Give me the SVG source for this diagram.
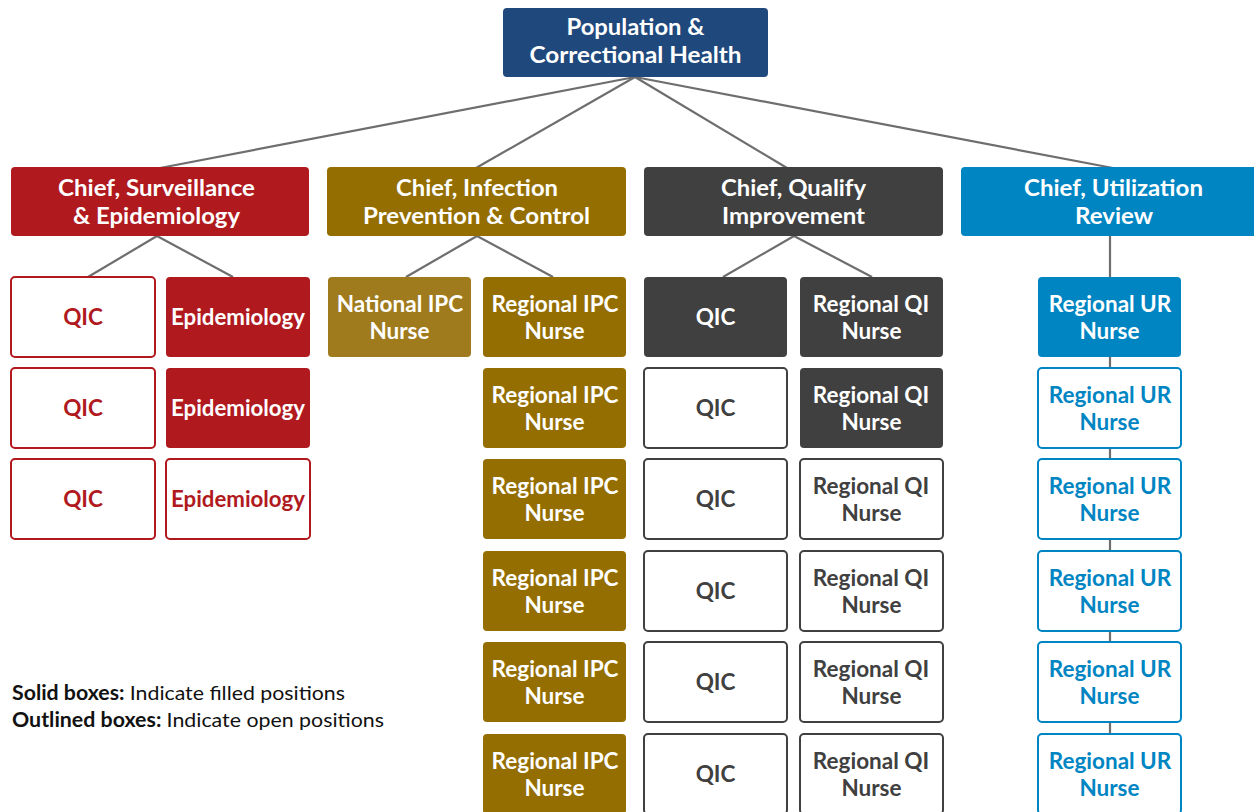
<svg xmlns="http://www.w3.org/2000/svg" width="1254" height="812" viewBox="0 0 1254 812">
<style>
text{font-family:Lato,"Open Sans","Liberation Sans",sans-serif;font-weight:bold;font-size:22.5px;text-anchor:middle}
.h{font-size:22px}
.w{fill:#fff}
.navy{fill:#1f497d}
.red{fill:#b0191e}
.gold{fill:#946e00}
.gold2{fill:#a07b1e}
.gray{fill:#404040}
.blue{fill:#0085c3}
.ored{fill:#fff;stroke:#b0191e;stroke-width:2}
.ogray{fill:#fff;stroke:#404040;stroke-width:2}
.oblue{fill:#fff;stroke:#0085c3;stroke-width:2}
.tred{fill:#b0191e}
.tgray{fill:#404040}
.tblue{fill:#0085c3}
.conn line{stroke:#6e6e6e;stroke-width:2.2}
.leg{text-anchor:start;font-size:20px;fill:#111}
.leg tspan.n{font-weight:normal}
</style>
<g class="conn" id="connectors">
<line x1="635" y1="77" x2="160" y2="168"/>
<line x1="635" y1="77" x2="476" y2="168"/>
<line x1="635" y1="77" x2="787" y2="168"/>
<line x1="635" y1="77" x2="1113" y2="168"/>
<line x1="157" y1="236" x2="88" y2="277"/>
<line x1="157" y1="236" x2="233" y2="277"/>
<line x1="477" y1="236" x2="406" y2="277"/>
<line x1="477" y1="236" x2="553" y2="277"/>
<line x1="794" y1="236" x2="723" y2="277"/>
<line x1="794" y1="236" x2="872" y2="277"/>
<line x1="1110" y1="236" x2="1110" y2="740"/>
</g>
<g id="top"><rect class="navy" x="503" y="8" width="265" height="69" rx="4"/><text class="w h" x="635.5" y="35" textLength="138" lengthAdjust="spacingAndGlyphs">Population &amp;</text><text class="w h" x="635.5" y="63" textLength="212" lengthAdjust="spacingAndGlyphs">Correctional Health</text></g>
<g id="chief-se"><rect class="red" x="11" y="167" width="298" height="69" rx="4"/><text class="w h" x="156.5" y="196" textLength="197" lengthAdjust="spacingAndGlyphs">Chief, Surveillance</text><text class="w h" x="156.5" y="224" textLength="167" lengthAdjust="spacingAndGlyphs">&amp; Epidemiology</text></g>
<g id="chief-ipc"><rect class="gold" x="327" y="167" width="299" height="69" rx="4"/><text class="w h" x="477" y="196" textLength="162" lengthAdjust="spacingAndGlyphs">Chief, Infection</text><text class="w h" x="476.5" y="224" textLength="227" lengthAdjust="spacingAndGlyphs">Prevention &amp; Control</text></g>
<g id="chief-qi"><rect class="gray" x="644" y="167" width="299" height="69" rx="4"/><text class="w h" x="793.5" y="196" textLength="145" lengthAdjust="spacingAndGlyphs">Chief, Qualify</text><text class="w h" x="793.5" y="224" textLength="143" lengthAdjust="spacingAndGlyphs">Improvement</text></g>
<g id="chief-ur"><rect class="blue" x="961" y="167" width="304" height="69" rx="4"/><text class="w h" x="1113.5" y="196" textLength="179" lengthAdjust="spacingAndGlyphs">Chief, Utilization</text><text class="w h" x="1114" y="224" textLength="78" lengthAdjust="spacingAndGlyphs">Review</text></g>

<g id="se-qic-1"><rect class="ored" x="11" y="277" width="144" height="80" rx="4"/><text class="tred" x="83" y="325">QIC</text></g>
<g id="se-qic-2"><rect class="ored" x="11" y="368" width="144" height="80" rx="4"/><text class="tred" x="83" y="416">QIC</text></g>
<g id="se-qic-3"><rect class="ored" x="11" y="459" width="144" height="80" rx="4"/><text class="tred" x="83" y="507">QIC</text></g>
<g id="se-epi-1"><rect class="red" x="166" y="277" width="144" height="80" rx="4"/><text class="w" x="238" y="325" textLength="134" lengthAdjust="spacingAndGlyphs">Epidemiology</text></g>
<g id="se-epi-2"><rect class="red" x="166" y="368" width="144" height="80" rx="4"/><text class="w" x="238" y="416" textLength="134" lengthAdjust="spacingAndGlyphs">Epidemiology</text></g>
<g id="se-epi-3"><rect class="ored" x="166" y="459" width="144" height="80" rx="4"/><text class="tred" x="238" y="507" textLength="134" lengthAdjust="spacingAndGlyphs">Epidemiology</text></g>

<g id="ipc-national"><rect class="gold2" x="328" y="277" width="143" height="80" rx="4"/><text class="w" x="400" y="312">National IPC</text><text class="w" x="399.5" y="339">Nurse</text></g>
<g id="ipc-r1"><rect class="gold" x="483" y="277" width="143" height="80" rx="4"/><text class="w" x="555" y="312">Regional IPC</text><text class="w" x="554.5" y="339">Nurse</text></g>
<g id="ipc-r2"><rect class="gold" x="483" y="368" width="143" height="80" rx="4"/><text class="w" x="555" y="403">Regional IPC</text><text class="w" x="554.5" y="430">Nurse</text></g>
<g id="ipc-r3"><rect class="gold" x="483" y="459" width="143" height="80" rx="4"/><text class="w" x="555" y="494">Regional IPC</text><text class="w" x="554.5" y="521">Nurse</text></g>
<g id="ipc-r4"><rect class="gold" x="483" y="551" width="143" height="80" rx="4"/><text class="w" x="555" y="586">Regional IPC</text><text class="w" x="554.5" y="613">Nurse</text></g>
<g id="ipc-r5"><rect class="gold" x="483" y="642" width="143" height="80" rx="4"/><text class="w" x="555" y="677">Regional IPC</text><text class="w" x="554.5" y="704">Nurse</text></g>
<g id="ipc-r6"><rect class="gold" x="483" y="734" width="143" height="80" rx="4"/><text class="w" x="555" y="769">Regional IPC</text><text class="w" x="554.5" y="796">Nurse</text></g>

<g id="qi-qic-1"><rect class="gray" x="644" y="277" width="143" height="80" rx="4"/><text class="w" x="715.5" y="325">QIC</text></g>
<g id="qi-qic-2"><rect class="ogray" x="644" y="368" width="143" height="80" rx="4"/><text class="tgray" x="715.5" y="416">QIC</text></g>
<g id="qi-qic-3"><rect class="ogray" x="644" y="459" width="143" height="80" rx="4"/><text class="tgray" x="715.5" y="507">QIC</text></g>
<g id="qi-qic-4"><rect class="ogray" x="644" y="551" width="143" height="80" rx="4"/><text class="tgray" x="715.5" y="599">QIC</text></g>
<g id="qi-qic-5"><rect class="ogray" x="644" y="642" width="143" height="80" rx="4"/><text class="tgray" x="715.5" y="690">QIC</text></g>
<g id="qi-qic-6"><rect class="ogray" x="644" y="734" width="143" height="80" rx="4"/><text class="tgray" x="715.5" y="782">QIC</text></g>
<g id="qi-r1"><rect class="gray" x="800" y="277" width="143" height="80" rx="4"/><text class="w" x="871" y="312">Regional QI</text><text class="w" x="871.5" y="339">Nurse</text></g>
<g id="qi-r2"><rect class="gray" x="800" y="368" width="143" height="80" rx="4"/><text class="w" x="871" y="403">Regional QI</text><text class="w" x="871.5" y="430">Nurse</text></g>
<g id="qi-r3"><rect class="ogray" x="800" y="459" width="143" height="80" rx="4"/><text class="tgray" x="871" y="494">Regional QI</text><text class="tgray" x="871.5" y="521">Nurse</text></g>
<g id="qi-r4"><rect class="ogray" x="800" y="551" width="143" height="80" rx="4"/><text class="tgray" x="871" y="586">Regional QI</text><text class="tgray" x="871.5" y="613">Nurse</text></g>
<g id="qi-r5"><rect class="ogray" x="800" y="642" width="143" height="80" rx="4"/><text class="tgray" x="871" y="677">Regional QI</text><text class="tgray" x="871.5" y="704">Nurse</text></g>
<g id="qi-r6"><rect class="ogray" x="800" y="734" width="143" height="80" rx="4"/><text class="tgray" x="871" y="769">Regional QI</text><text class="tgray" x="871.5" y="796">Nurse</text></g>

<g id="ur-r1"><rect class="blue" x="1038" y="277" width="143" height="80" rx="4"/><text class="w" x="1110" y="312">Regional UR</text><text class="w" x="1109.5" y="339">Nurse</text></g>
<g id="ur-r2"><rect class="oblue" x="1038" y="368" width="143" height="80" rx="4"/><text class="tblue" x="1110" y="403">Regional UR</text><text class="tblue" x="1109.5" y="430">Nurse</text></g>
<g id="ur-r3"><rect class="oblue" x="1038" y="459" width="143" height="80" rx="4"/><text class="tblue" x="1110" y="494">Regional UR</text><text class="tblue" x="1109.5" y="521">Nurse</text></g>
<g id="ur-r4"><rect class="oblue" x="1038" y="551" width="143" height="80" rx="4"/><text class="tblue" x="1110" y="586">Regional UR</text><text class="tblue" x="1109.5" y="613">Nurse</text></g>
<g id="ur-r5"><rect class="oblue" x="1038" y="642" width="143" height="80" rx="4"/><text class="tblue" x="1110" y="677">Regional UR</text><text class="tblue" x="1109.5" y="704">Nurse</text></g>
<g id="ur-r6"><rect class="oblue" x="1038" y="734" width="143" height="80" rx="4"/><text class="tblue" x="1110" y="769">Regional UR</text><text class="tblue" x="1109.5" y="796">Nurse</text></g>

<g id="legend">
<text class="leg" x="12" y="700" textLength="333" lengthAdjust="spacingAndGlyphs">Solid boxes: <tspan class="n">Indicate filled positions</tspan></text>
<text class="leg" x="12" y="727" textLength="372" lengthAdjust="spacingAndGlyphs">Outlined boxes: <tspan class="n">Indicate open positions</tspan></text>
</g>
</svg>
